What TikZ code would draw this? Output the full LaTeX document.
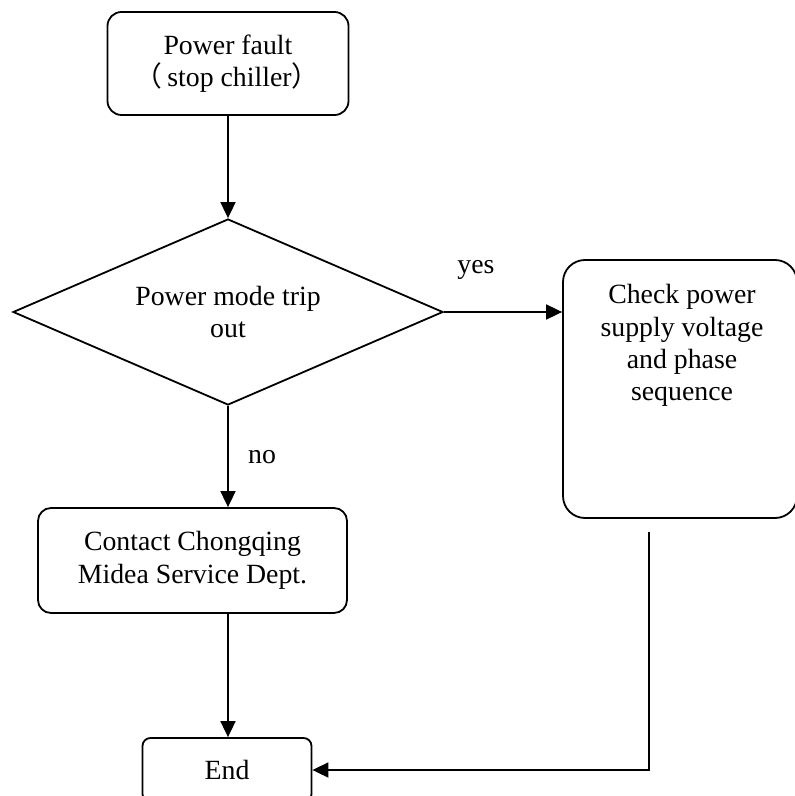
\documentclass[tikz,border=0pt]{standalone}
\usepackage{fontspec}
\setmainfont{Liberation Serif}
\newfontfamily\cjk{Noto Sans CJK SC}
\usetikzlibrary{arrows.meta,shapes.geometric}

\begin{document}
\begin{tikzpicture}[x=0.5pt, y=-0.5pt, >={Triangle[length=8pt,width=7.5pt]},
    every node/.style={font=\fontsize{13.9}{16.2}\selectfont},
    flowbox/.style={draw, line width=0.9pt, rounded corners=7pt, align=center, inner sep=0pt},
    flowline/.style={line width=0.9pt}]
    \useasboundingbox (0,0) rectangle (795,796);
    % --- start box ---
    \node[flowbox, minimum width=120.5pt, minimum height=51.5pt] (fault) at (228,63.5)
      {Power fault\\{\cjk （}\kern2.5pt stop chiller{\cjk ）}\kern1pt};
    % --- decision ---
    \node[draw, diamond, aspect=2.3, line width=0.9pt, minimum width=215pt, minimum height=93pt,
      inner sep=0pt, align=center] (trip) at (228,312) {Power mode trip\\out};
    % --- yes branch ---
    \node[flowbox, rounded corners=11pt, minimum width=117pt, minimum height=129pt] (check) at (680,389) {};
    \node[anchor=north, align=center, inner sep=0pt] (checktext) at (682,284)
      {Check power\\supply voltage\\and phase\\sequence};
    % --- no branch ---
    \node[flowbox, rounded corners=6.5pt, minimum width=154.5pt, minimum height=52.5pt] (contact) at (192.5,560.5)
      {Contact Chongqing\\Midea Service Dept.};
    % --- end ---
    \node[flowbox, rounded corners=4pt, minimum width=84.5pt, minimum height=32pt] (finish) at (227,770) {End};
    % --- branch labels ---
    \node (yes) at (476,270) {yes};
    \node (no) at (262,457) {no};
    % --- connectors ---
    \draw[flowline, ->] (fault.south) -- (trip.north);
    \draw[flowline, ->] (trip.east) -- (trip.east -| check.west);
    \draw[flowline, ->] (trip.south) -- (trip.south |- contact.north);
    \draw[flowline, ->] (contact.south -| trip.south) -- (finish.north -| trip.south);
    \coordinate (back) at (649,532);
    \draw[flowline, ->] (back) |- (finish.east);
\end{tikzpicture}
\end{document}
